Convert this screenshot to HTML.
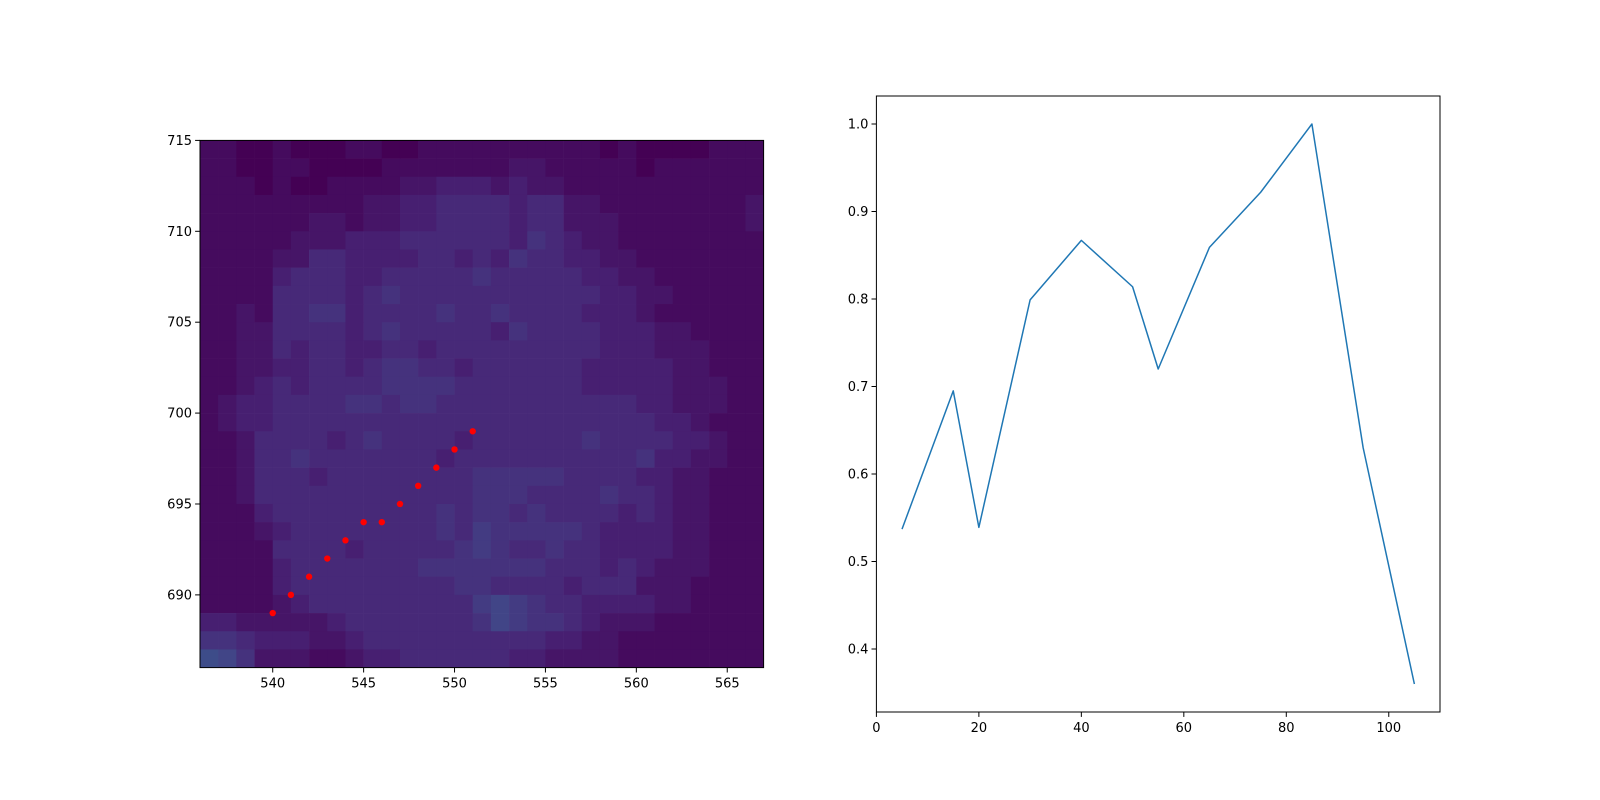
<!DOCTYPE html>
<html><head><meta charset="utf-8"><style>
html,body{margin:0;padding:0;background:#fff;width:1600px;height:800px;overflow:hidden}
svg text{font-family:"DejaVu Sans","Liberation Sans",sans-serif;font-size:13px;fill:#000}
</style></head><body>
<svg id="fig" width="1600" height="800" xmlns="http://www.w3.org/2000/svg">
<rect width="1600" height="800" fill="#fff"/>
<g id="left"></g>
<g id="right"></g>
</svg>
<script>
// heatmap levels (rows top=715 to bottom=686), each digit is an intensity level
const heatRows = [
"1100100011001111111111010000111",
"1100110000111111122111110111111",
"1110100111122333232211111111111",
"1111111112233444434422111111112",
"1111112212233444434422211111112",
"1111122233344444435432211111111",
"1111224433334434354433221111111",
"1111344433444445444443322111111",
"1111444434544444444444332211111",
"1121445534444544544443332111111",
"1122444434544444354444333221111",
"1122434433443444444444333222111",
"1122334434554434444443333322111",
"1123434444555544444443333322211",
"1233444455455444444444443322211",
"1233444444444444444444444332111",
"1124444345444434444445444433211",
"1124454444444344444444445332211",
"1124443444444445555544443322111",
"1124444444444445554444544322111",
"1113444444444545545444434322111",
"1112344444444546555554333322111",
"1111444434444456544544333322111",
"1111344444445555555444343222111",
"1111344444444455444434442221111",
"1111234444444446765443333221111",
"3322222344444445765543222111111",
"5543332234444444444332211111111",
"8752221123344444433222211111111"
];
const dotX = [540,541,542,543,544,545,546,547,548,549,550,551];
const dotY = [689,690,691,692,693,694,694,695,696,697,698,699];
const heatXTicks = [540,545,550,555,560,565];
const heatYTicks = [690,695,700,705,710,715];

const lineX = [5,15,20,30,40,50,55,65,75,85,95,105];
const lineY = [0.537,0.695,0.539,0.799,0.867,0.814,0.72,0.859,0.922,1.0,0.63,0.36];
const lineXTicks = [0,20,40,60,80,100];
const lineYTicks = [0.4,0.5,0.6,0.7,0.8,0.9,1.0];

const NS="http://www.w3.org/2000/svg";
function mk(tag,attrs,parent){const e=document.createElementNS(NS,tag);for(const k in attrs)e.setAttribute(k,attrs[k]);parent.appendChild(e);return e;}
const vir=[[68,1,84],[72,36,117],[65,68,135],[53,95,141]];
function col(d){const v=d/9*2.6;const i=Math.min(2,Math.floor(v));const t=v-i;const a=vir[i],b=vir[i+1];
return `rgb(${Math.round(a[0]+(b[0]-a[0])*t)},${Math.round(a[1]+(b[1]-a[1])*t)},${Math.round(a[2]+(b[2]-a[2])*t)})`;}

// left panel
const L=document.getElementById('left');
const x0=536,x1=567,y0=686,y1=715;
const lx0=200,lx1=763.6,ly0=667.6,ly1=140.4;
const hx=v=>lx0+(v-x0)/(x1-x0)*(lx1-lx0);
const hy=v=>ly0-(v-y0)/(y1-y0)*(ly0-ly1);
heatRows.forEach((row,r)=>{for(let c=0;c<row.length;c++){
 const rc=mk('rect',{x:hx(x0+c),y:hy(y1-r),width:hx(x0+c+1)-hx(x0+c)+0.3,height:hy(y1-r-1)-hy(y1-r)+0.3,fill:col(+row[c])},L);
 
 
}});
dotX.forEach((v,i)=>{const d=mk('circle',{cx:hx(v),cy:hy(dotY[i]),r:3.2,fill:'#ff0000'},L);
 
 });
const lf=mk('rect',{x:lx0,y:ly1,width:lx1-lx0,height:ly0-ly1,fill:'none',stroke:'#000','stroke-width':1},L);


heatXTicks.forEach(t=>{const x=hx(t);mk('line',{x1:x,x2:x,y1:ly0,y2:ly0+4.9,stroke:'#000'},L);
 const tx=mk('text',{x:x,y:ly0+20,'text-anchor':'middle'},L);tx.textContent=t;
 
 });
heatYTicks.forEach(t=>{const y=hy(t);mk('line',{x1:lx0,x2:lx0-4.9,y1:y,y2:y,stroke:'#000'},L);
 const tx=mk('text',{x:lx0-8,y:y+4.5,'text-anchor':'end'},L);tx.textContent=t;
 
 });

// right panel
const R=document.getElementById('right');
const rx0=876.4,rx1=1440,ry0=712,ry1=96;
const px=v=>rx0+(v-0)/110*(rx1-rx0);
const py=v=>ry0-(v-0.328)/(1.032-0.328)*(ry0-ry1);
const pts=lineX.map((v,i)=>px(v).toFixed(2)+','+py(lineY[i]).toFixed(2)).join(' ');
const pl=mk('polyline',{points:pts,fill:'none',stroke:'#1f77b4','stroke-width':1.5,'stroke-linejoin':'round'},R);


const rf=mk('rect',{x:rx0,y:ry1,width:rx1-rx0,height:ry0-ry1,fill:'none',stroke:'#000','stroke-width':1},R);


lineXTicks.forEach(t=>{const x=px(t);mk('line',{x1:x,x2:x,y1:ry0,y2:ry0+4.9,stroke:'#000'},R);
 const tx=mk('text',{x:x,y:ry0+20,'text-anchor':'middle'},R);tx.textContent=t;
 
 });
lineYTicks.forEach(t=>{const y=py(t);mk('line',{x1:rx0,x2:rx0-4.9,y1:y,y2:y,stroke:'#000'},R);
 const tx=mk('text',{x:rx0-8,y:y+4.5,'text-anchor':'end'},R);tx.textContent=t.toFixed(1);
 
 });
</script>
</body></html>
